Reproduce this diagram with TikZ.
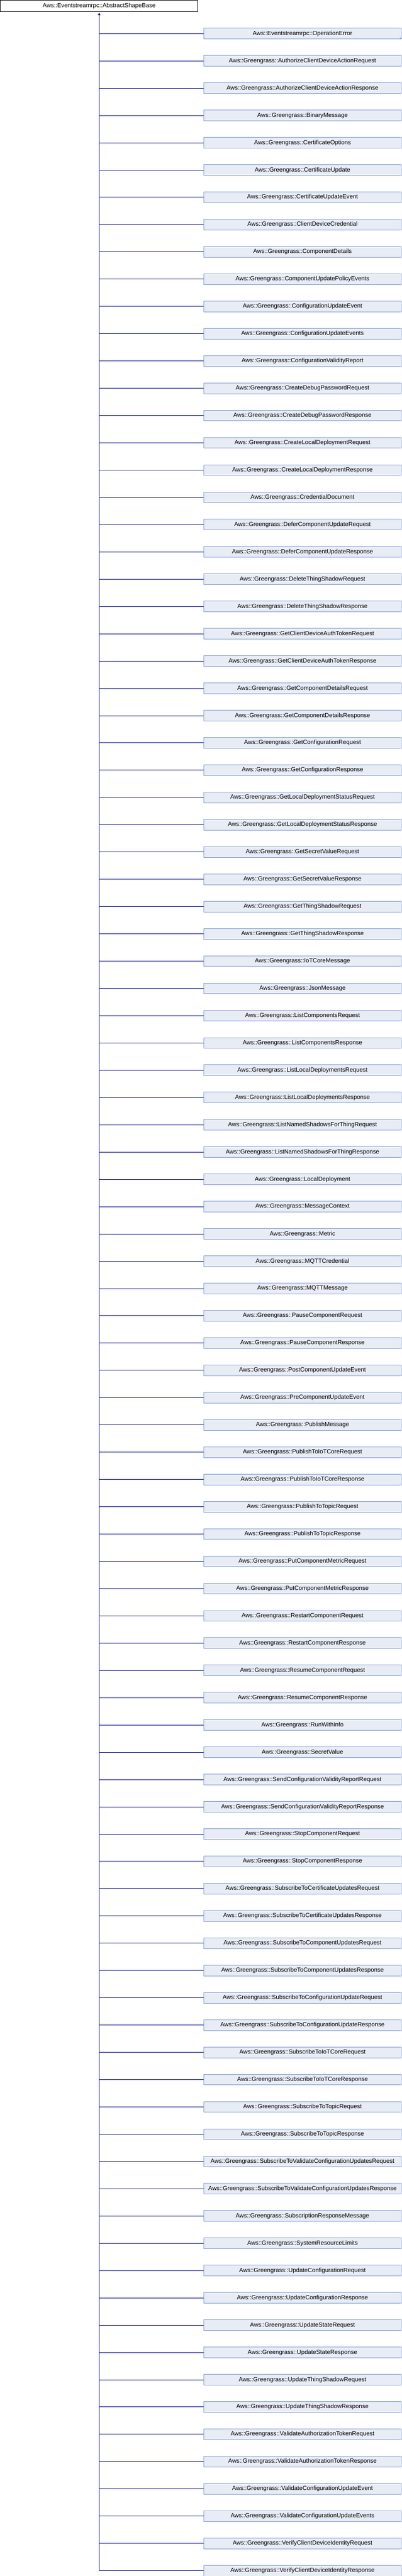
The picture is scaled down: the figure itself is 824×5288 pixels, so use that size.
\documentclass[tikz,border=0pt]{standalone}
\usepackage{fontspec}
\setmainfont{Liberation Sans}
\usetikzlibrary{arrows.meta}
\definecolor{boxfill}{HTML}{E8ECF5}
\definecolor{boxborder}{HTML}{7F98CF}
\definecolor{edgecol}{HTML}{000080}
\begin{document}
\begin{tikzpicture}[x=1pt,y=-1pt,
  cls/.style={draw=boxborder, fill=boxfill, line width=1pt, minimum width=405.5pt, minimum height=22pt, inner sep=0pt, anchor=north west, font=\fontsize{12.3}{14}\selectfont},
  rootcls/.style={draw=black, fill=white, line width=1pt, minimum width=405pt, minimum height=22.5pt, inner sep=0pt, anchor=north west, font=\fontsize{12.3}{14}\selectfont},
  edge/.style={draw=edgecol, line width=1pt}]
\useasboundingbox (0,0) rectangle (824,5288);
\node[rootcls] (root) at (0.5,0.5) {Aws::Eventstreamrpc::AbstractShapeBase};
\foreach \nm [count=\i from 0] in {
Aws::Eventstreamrpc::OperationError,
Aws::Greengrass::AuthorizeClientDeviceActionRequest,
Aws::Greengrass::AuthorizeClientDeviceActionResponse,
Aws::Greengrass::BinaryMessage,
Aws::Greengrass::CertificateOptions,
Aws::Greengrass::CertificateUpdate,
Aws::Greengrass::CertificateUpdateEvent,
Aws::Greengrass::ClientDeviceCredential,
Aws::Greengrass::ComponentDetails,
Aws::Greengrass::ComponentUpdatePolicyEvents,
Aws::Greengrass::ConfigurationUpdateEvent,
Aws::Greengrass::ConfigurationUpdateEvents,
Aws::Greengrass::ConfigurationValidityReport,
Aws::Greengrass::CreateDebugPasswordRequest,
Aws::Greengrass::CreateDebugPasswordResponse,
Aws::Greengrass::CreateLocalDeploymentRequest,
Aws::Greengrass::CreateLocalDeploymentResponse,
Aws::Greengrass::CredentialDocument,
Aws::Greengrass::DeferComponentUpdateRequest,
Aws::Greengrass::DeferComponentUpdateResponse,
Aws::Greengrass::DeleteThingShadowRequest,
Aws::Greengrass::DeleteThingShadowResponse,
Aws::Greengrass::GetClientDeviceAuthTokenRequest,
Aws::Greengrass::GetClientDeviceAuthTokenResponse,
Aws::Greengrass::GetComponentDetailsRequest,
Aws::Greengrass::GetComponentDetailsResponse,
Aws::Greengrass::GetConfigurationRequest,
Aws::Greengrass::GetConfigurationResponse,
Aws::Greengrass::GetLocalDeploymentStatusRequest,
Aws::Greengrass::GetLocalDeploymentStatusResponse,
Aws::Greengrass::GetSecretValueRequest,
Aws::Greengrass::GetSecretValueResponse,
Aws::Greengrass::GetThingShadowRequest,
Aws::Greengrass::GetThingShadowResponse,
Aws::Greengrass::IoTCoreMessage,
Aws::Greengrass::JsonMessage,
Aws::Greengrass::ListComponentsRequest,
Aws::Greengrass::ListComponentsResponse,
Aws::Greengrass::ListLocalDeploymentsRequest,
Aws::Greengrass::ListLocalDeploymentsResponse,
Aws::Greengrass::ListNamedShadowsForThingRequest,
Aws::Greengrass::ListNamedShadowsForThingResponse,
Aws::Greengrass::LocalDeployment,
Aws::Greengrass::MessageContext,
Aws::Greengrass::Metric,
Aws::Greengrass::MQTTCredential,
Aws::Greengrass::MQTTMessage,
Aws::Greengrass::PauseComponentRequest,
Aws::Greengrass::PauseComponentResponse,
Aws::Greengrass::PostComponentUpdateEvent,
Aws::Greengrass::PreComponentUpdateEvent,
Aws::Greengrass::PublishMessage,
Aws::Greengrass::PublishToIoTCoreRequest,
Aws::Greengrass::PublishToIoTCoreResponse,
Aws::Greengrass::PublishToTopicRequest,
Aws::Greengrass::PublishToTopicResponse,
Aws::Greengrass::PutComponentMetricRequest,
Aws::Greengrass::PutComponentMetricResponse,
Aws::Greengrass::RestartComponentRequest,
Aws::Greengrass::RestartComponentResponse,
Aws::Greengrass::ResumeComponentRequest,
Aws::Greengrass::ResumeComponentResponse,
Aws::Greengrass::RunWithInfo,
Aws::Greengrass::SecretValue,
Aws::Greengrass::SendConfigurationValidityReportRequest,
Aws::Greengrass::SendConfigurationValidityReportResponse,
Aws::Greengrass::StopComponentRequest,
Aws::Greengrass::StopComponentResponse,
Aws::Greengrass::SubscribeToCertificateUpdatesRequest,
Aws::Greengrass::SubscribeToCertificateUpdatesResponse,
Aws::Greengrass::SubscribeToComponentUpdatesRequest,
Aws::Greengrass::SubscribeToComponentUpdatesResponse,
Aws::Greengrass::SubscribeToConfigurationUpdateRequest,
Aws::Greengrass::SubscribeToConfigurationUpdateResponse,
Aws::Greengrass::SubscribeToIoTCoreRequest,
Aws::Greengrass::SubscribeToIoTCoreResponse,
Aws::Greengrass::SubscribeToTopicRequest,
Aws::Greengrass::SubscribeToTopicResponse,
Aws::Greengrass::SubscribeToValidateConfigurationUpdatesRequest,
Aws::Greengrass::SubscribeToValidateConfigurationUpdatesResponse,
Aws::Greengrass::SubscriptionResponseMessage,
Aws::Greengrass::SystemResourceLimits,
Aws::Greengrass::UpdateConfigurationRequest,
Aws::Greengrass::UpdateConfigurationResponse,
Aws::Greengrass::UpdateStateRequest,
Aws::Greengrass::UpdateStateResponse,
Aws::Greengrass::UpdateThingShadowRequest,
Aws::Greengrass::UpdateThingShadowResponse,
Aws::Greengrass::ValidateAuthorizationTokenRequest,
Aws::Greengrass::ValidateAuthorizationTokenResponse,
Aws::Greengrass::ValidateConfigurationUpdateEvent,
Aws::Greengrass::ValidateConfigurationUpdateEvents,
Aws::Greengrass::VerifyClientDeviceIdentityRequest,
Aws::Greengrass::VerifyClientDeviceIdentityResponse}{
  \node[cls] (c\i) at (417.5,{57.5+56*\i}) {\nm};
  \draw[edge] (root.south |- c\i.west) -- (c\i.west);
}
\draw[edge,-{Triangle[length=5pt,width=5pt]}] (root.south |- c93.west) -- ([yshift=-2pt]root.south);
\fill[boxborder] (c0.south east) -- ++(-5,0) -- ++(5,-5) -- cycle;
\end{tikzpicture}
\end{document}
